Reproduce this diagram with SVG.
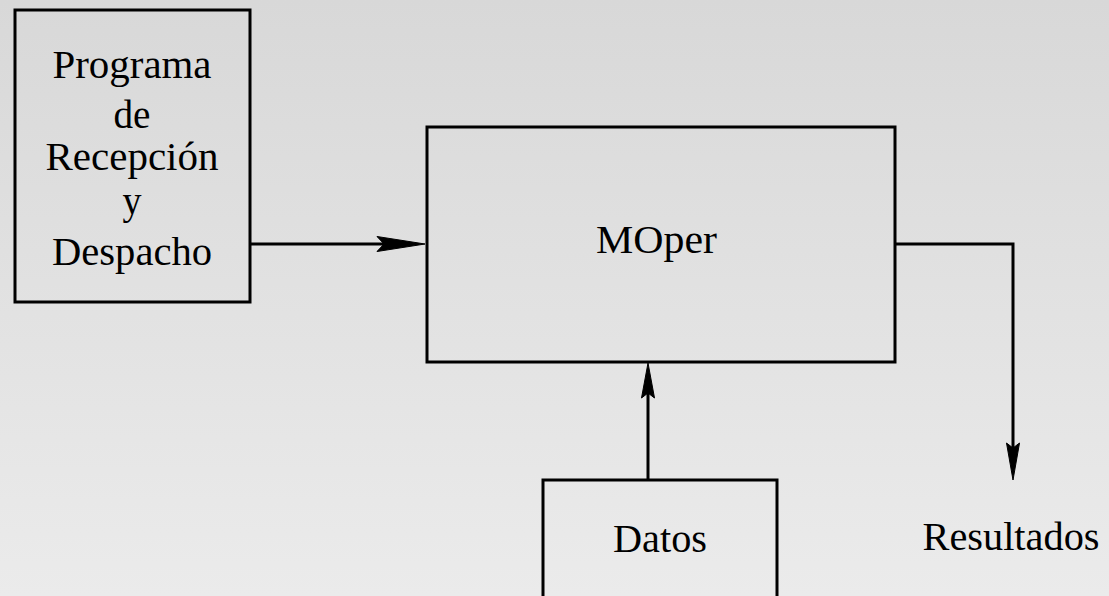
<svg xmlns="http://www.w3.org/2000/svg" width="1109" height="596" viewBox="0 0 1109 596">
<defs>
<linearGradient id="bg" x1="0" y1="0" x2="0" y2="1">
<stop offset="0" stop-color="#d8d8d8"/>
<stop offset="1" stop-color="#ebebeb"/>
</linearGradient>
<style>
.box{fill:none;stroke:#000;stroke-width:3}
.ln{fill:none;stroke:#000;stroke-width:3}
.hd{fill:#000;stroke:#000;stroke-width:1;stroke-linejoin:miter}
text{font-family:"Liberation Serif","Times New Roman",serif;font-size:40px;fill:#000;text-anchor:middle}
</style>
</defs>
<rect x="0" y="0" width="1109" height="596" fill="url(#bg)"/>
<g id="connectors">
<path class="ln" d="M250,244 H385"/>
<path class="hd" d="M425,244 L377,236.5 L384,244 L377,251.5 Z"/>
<path class="ln" d="M648,480 V390"/>
<path class="hd" d="M648,363 L641.5,398 L648,393 L654.5,398 Z"/>
<path class="ln" d="M895,244 H1013 V450"/>
<path class="hd" d="M1013,480 L1006.5,443 L1013,448 L1019.5,443 Z"/>
</g>
<g id="programa">
<rect class="box" x="15" y="10" width="235" height="292"/>
<text x="132" y="77.5" textLength="159" lengthAdjust="spacingAndGlyphs">Programa</text>
<text x="132" y="127.5" textLength="37" lengthAdjust="spacingAndGlyphs">de</text>
<text x="132" y="169.5" textLength="173" lengthAdjust="spacingAndGlyphs">Recepción</text>
<text x="132" y="214" textLength="19" lengthAdjust="spacingAndGlyphs">y</text>
<text x="132" y="265" textLength="160" lengthAdjust="spacingAndGlyphs">Despacho</text>
</g>
<g id="moper">
<rect class="box" x="427" y="127" width="468" height="235"/>
<text x="656.5" y="253" textLength="121" lengthAdjust="spacingAndGlyphs">MOper</text>
</g>
<g id="datos">
<rect class="box" x="543" y="480" width="234" height="130"/>
<text x="660" y="551.5" textLength="94" lengthAdjust="spacingAndGlyphs">Datos</text>
</g>
<g id="resultados">
<text x="1011" y="550" textLength="177" lengthAdjust="spacingAndGlyphs">Resultados</text>
</g>
</svg>
